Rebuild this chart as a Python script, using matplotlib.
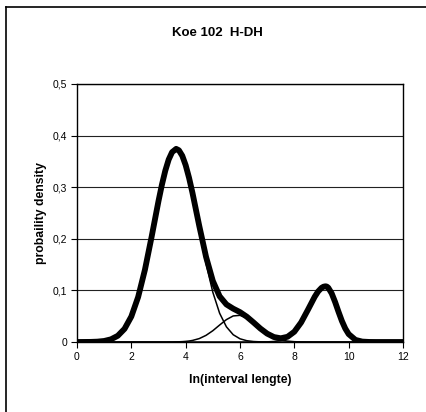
import matplotlib
matplotlib.use("Agg")
import matplotlib.pyplot as plt
from matplotlib.lines import Line2D

plt.rcParams['font.family'] = ['Liberation Sans', 'DejaVu Sans']

title = "Koe 102  H-DH"
xlabel = "ln(interval lengte)"
ylabel = "probaility density"
xticks = [0, 2, 4, 6, 8, 10, 12]
yticks = [0, 0.1, 0.2, 0.3, 0.4, 0.5]
ytick_labels = ["0", "0,1", "0,2", "0,3", "0,4", "0,5"]

x = [0, 0.25, 0.5, 0.75, 1.0, 1.25, 1.5, 1.75, 2.0, 2.25, 2.5, 2.75, 3.0,
     3.125, 3.25, 3.375, 3.5, 3.65, 3.75, 3.875, 4.0, 4.125, 4.25,
     4.5, 4.75, 5.0, 5.25, 5.5, 5.75, 6.0, 6.25,
     6.5, 6.75, 7.0, 7.25, 7.5, 7.75, 8.0, 8.25, 8.5, 8.75, 8.875, 9.0, 9.075,
     9.15, 9.2, 9.25, 9.375, 9.5, 9.625, 9.75, 9.875, 10.0, 10.25, 10.5, 10.75,
     11.0, 11.25, 11.5, 11.75, 12.0]

comp1 = [0.0000, 0.0001, 0.0002, 0.0007, 0.0020, 0.0052, 0.0120, 0.0255, 0.0494,
         0.0871, 0.1399, 0.2048, 0.2732,
         0.3047, 0.3320, 0.3535, 0.3678, 0.3740, 0.3712, 0.3602, 0.3414, 0.3162, 0.2861,
         0.2185, 0.1521, 0.0964, 0.0557, 0.0294, 0.0141, 0.0062, 0.0025,
         0.0009, 0.0003, 0.0001, 0, 0, 0, 0, 0, 0, 0, 0, 0, 0,
         0, 0, 0, 0, 0, 0, 0, 0, 0, 0, 0, 0,
         0, 0, 0, 0, 0]

comp2 = [0, 0, 0, 0, 0, 0, 0, 0, 0, 0, 0, 0, 0,
         0, 0.0000, 0.0001, 0.0001, 0.0003, 0.0004, 0.0007, 0.0012, 0.0019, 0.0030,
         0.0066, 0.0129, 0.0219, 0.0329, 0.0434, 0.0505, 0.0517, 0.0465,
         0.0369, 0.0257, 0.0158, 0.0086, 0.0041, 0.0017, 0.0006, 0.0002, 0.0001,
         0, 0, 0, 0,
         0, 0, 0, 0, 0, 0, 0, 0, 0, 0, 0, 0,
         0, 0, 0, 0, 0]

comp3 = [0, 0, 0, 0, 0, 0, 0, 0, 0, 0, 0, 0, 0,
         0, 0, 0, 0, 0, 0, 0, 0, 0, 0,
         0, 0, 0, 0, 0, 0, 0, 0,
         0, 0.0001, 0.0003, 0.0010, 0.0031, 0.0084, 0.0193, 0.0377, 0.0623,
         0.0877, 0.0979, 0.1049, 0.1072,
         0.1080, 0.1073, 0.1051, 0.0942, 0.0776, 0.0587, 0.0408, 0.0261, 0.0153,
         0.0041, 0.0008, 0.0001,
         0, 0, 0, 0, 0]

total = [0.0000, 0.0001, 0.0002, 0.0007, 0.0020, 0.0052, 0.0120, 0.0255, 0.0494,
         0.0871, 0.1399, 0.2048, 0.2732,
         0.3047, 0.3320, 0.3536, 0.3679, 0.3743, 0.3716, 0.3609, 0.3426, 0.3181, 0.2891,
         0.2251, 0.1650, 0.1183, 0.0886, 0.0728, 0.0646, 0.0579, 0.0490,
         0.0378, 0.0261, 0.0162, 0.0096, 0.0072, 0.0101, 0.0199, 0.0379, 0.0624,
         0.0877, 0.0979, 0.1049, 0.1072,
         0.1080, 0.1073, 0.1051, 0.0942, 0.0776, 0.0587, 0.0408, 0.0261, 0.0153,
         0.0041, 0.0008, 0.0001,
         0, 0, 0, 0, 0]

fig = plt.figure(figsize=(4.27, 4.12), dpi=100)
ax = fig.add_axes([77/427, 1 - 342/412, (403 - 77)/427, (342 - 84)/412])

for yv in yticks[1:]:
    ax.axhline(yv, color='#222222', lw=0.8, zorder=1)

for comp in (comp1, comp2, comp3):
    ax.plot(x, comp, color='black', lw=1.1, zorder=3, solid_joinstyle='round')
ax.plot(x, total, color='black', lw=4.2, zorder=4, solid_joinstyle='round',
        solid_capstyle='round')

ax.set_xlim(0, 12)
ax.set_ylim(0, 0.5)
ax.set_xticks(xticks)
ax.set_xticklabels([str(t) for t in xticks])
ax.set_yticks(yticks)
ax.set_yticklabels(ytick_labels)
ax.tick_params(axis='both', direction='out', length=4, width=0.8,
               labelsize=7.5, pad=3, color='black')
for s in ax.spines.values():
    s.set_color('black')
    s.set_linewidth(1.0)

ax.set_xlabel(xlabel, fontsize=8.8, fontweight='bold', labelpad=9)
ax.set_ylabel(ylabel, fontsize=8.8, fontweight='bold', labelpad=4)

fig.text(217/427, 1 - 33/412, title, fontsize=9.5, fontweight='bold',
         ha='center', va='center')

# outer chart frame (top and left edges visible)
fig.add_artist(Line2D([6/427, 1.0], [1 - 7/412, 1 - 7/412],
                      transform=fig.transFigure, color='black', lw=1.2))
fig.add_artist(Line2D([6/427, 6/427], [0.0, 1 - 7/412],
                      transform=fig.transFigure, color='black', lw=1.2))

fig.savefig("out.png", dpi=100)
